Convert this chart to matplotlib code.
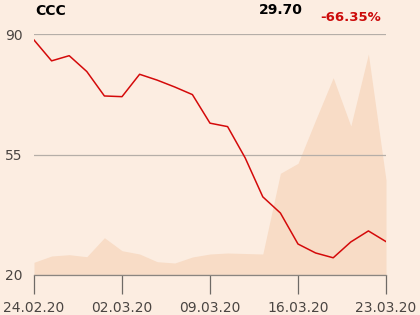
import matplotlib.pyplot as plt

# trading days 24.02.20 - 23.03.20
dates = ["24.02.20", "25.02.20", "26.02.20", "27.02.20", "28.02.20",
         "02.03.20", "03.03.20", "04.03.20", "05.03.20", "06.03.20",
         "09.03.20", "10.03.20", "11.03.20", "12.03.20", "13.03.20",
         "16.03.20", "17.03.20", "18.03.20", "19.03.20", "20.03.20",
         "23.03.20"]
price = [88.26, 82.2, 83.7, 79.1, 72.0, 71.8, 78.3, 76.6, 74.6, 72.4,
         64.1, 63.1, 54.0, 42.7, 38.0, 29.0, 26.4, 25.0, 29.6, 32.8, 29.70]
volume = [12.7, 19, 20.3, 18.3, 37.3, 24.3, 21, 13.3, 12, 18,
          21, 22, 21.5, 21, 101.7, 111.7, 155, 197.3, 149, 221, 95]
tick_labels = ["24.02.20", "02.03.20", "09.03.20", "16.03.20", "23.03.20"]
yticks = [20, 55, 90]

bg = "#fcede1"
x = list(range(len(dates)))

fig = plt.figure(figsize=(4.2, 3.15), dpi=100, facecolor=bg)
ax = fig.add_axes([34 / 420, 1 - 275 / 315, 352 / 420, 241 / 315])
ax2 = ax.twinx()
ax2.set_facecolor(bg)
ax.set_zorder(ax2.get_zorder() + 1)
ax.patch.set_visible(False)

ax2.fill_between(x, volume, 0, color="#f8dcc6", linewidth=0)
ax2.set_ylim(0, 241)
ax2.axis("off")

ax.plot(x, price, color="#d40a0a", linewidth=1.1)
ax.set_xlim(0, len(x) - 1)
ax.set_ylim(20, 90)

ax.set_yticks(yticks)
ax.set_yticklabels([str(v) for v in yticks])
ax.grid(axis="y", color="#b5aea8", linewidth=0.9)
ax.set_xticks([dates.index(d) for d in tick_labels])
ax.set_xticklabels(tick_labels)
ax.tick_params(axis="y", length=0, pad=8, labelsize=10, labelcolor="#4a4542")
ax.tick_params(axis="x", length=14, width=0.9, color="#6e6a66", pad=5,
               labelsize=10, labelcolor="#4a4542")
for s in ["top", "right", "left"]:
    ax.spines[s].set_visible(False)
ax.spines["bottom"].set_color("#8a8580")
ax.spines["bottom"].set_linewidth(0.9)

fig.text(35 / 420, 1 - 15 / 315, "CCC", fontsize=10, fontweight="bold",
         color="black", ha="left", va="baseline")
fig.text(303 / 420, 1 - 14 / 315, "%.2f" % price[-1], fontsize=10,
         fontweight="bold", color="black", ha="right", va="baseline")
change = (price[-1] / price[0] - 1) * 100
fig.text(320 / 420, 1 - 21 / 315, "%.2f%%" % change, fontsize=9.5,
         fontweight="bold", color="#cc0a0a", ha="left", va="baseline")

fig.savefig("out.png", dpi=100, facecolor=bg)
